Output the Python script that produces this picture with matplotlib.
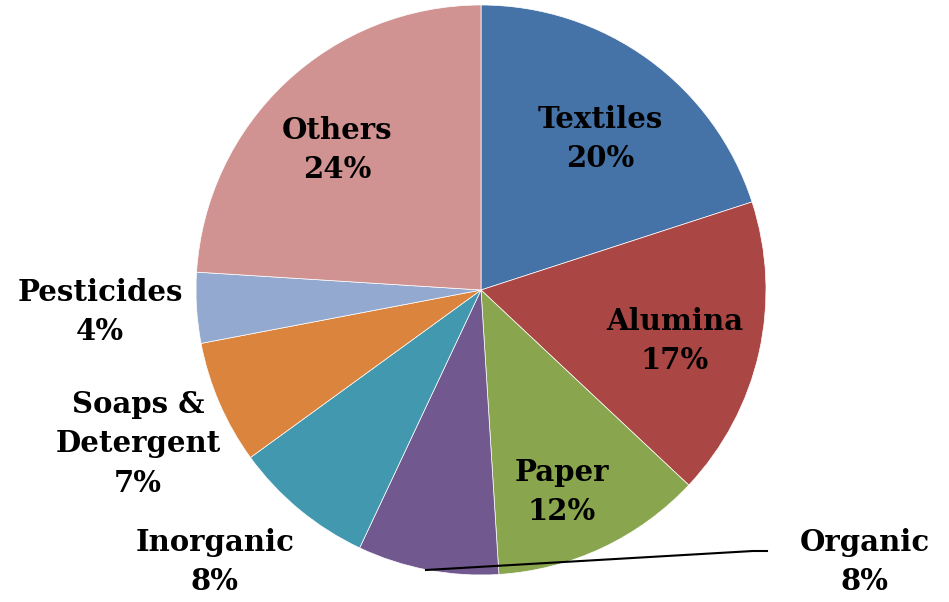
import matplotlib.pyplot as plt

sectors = ["Textiles", "Alumina", "Paper", "Organic", "Inorganic",
           "Soaps &\nDetergent", "Pesticides", "Others"]
shares = [20, 17, 12, 8, 8, 7, 4, 24]
colors = ["#4572A7", "#AA4643", "#89A54E", "#71588F", "#4198AF",
          "#DB843D", "#93A9CF", "#D19392"]

# label anchor points in figure pixels (x, y from top)
label_pos = [(600, 139), (675, 341), (562, 492), (865, 562),
             (215, 562), (138, 444), (100, 312), (337, 150)]

fig = plt.figure(figsize=(9.49, 6.02), dpi=100)
ax = fig.add_axes([0, 0, 1, 1])

H = 602
ax.pie(shares, colors=colors, startangle=90, counterclock=False,
       center=(481, H - 290), radius=285, frame=True,
       wedgeprops=dict(linewidth=0.5, edgecolor="white"))
ax.set_xlim(0, 949)
ax.set_ylim(0, H)
ax.axis("off")

for name, val, (x, y) in zip(sectors, shares, label_pos):
    ax.text(x, H - y, f"{name}\n{val}%", ha="center", va="center",
            fontsize=21, fontweight="bold", family="DejaVu Serif",
            linespacing=1.45)

# leader line for the small Organic slice
ax.plot([426, 753, 767], [H - 570, H - 551, H - 551], color="black", lw=1.5)

fig.savefig("out.png", dpi=100)
